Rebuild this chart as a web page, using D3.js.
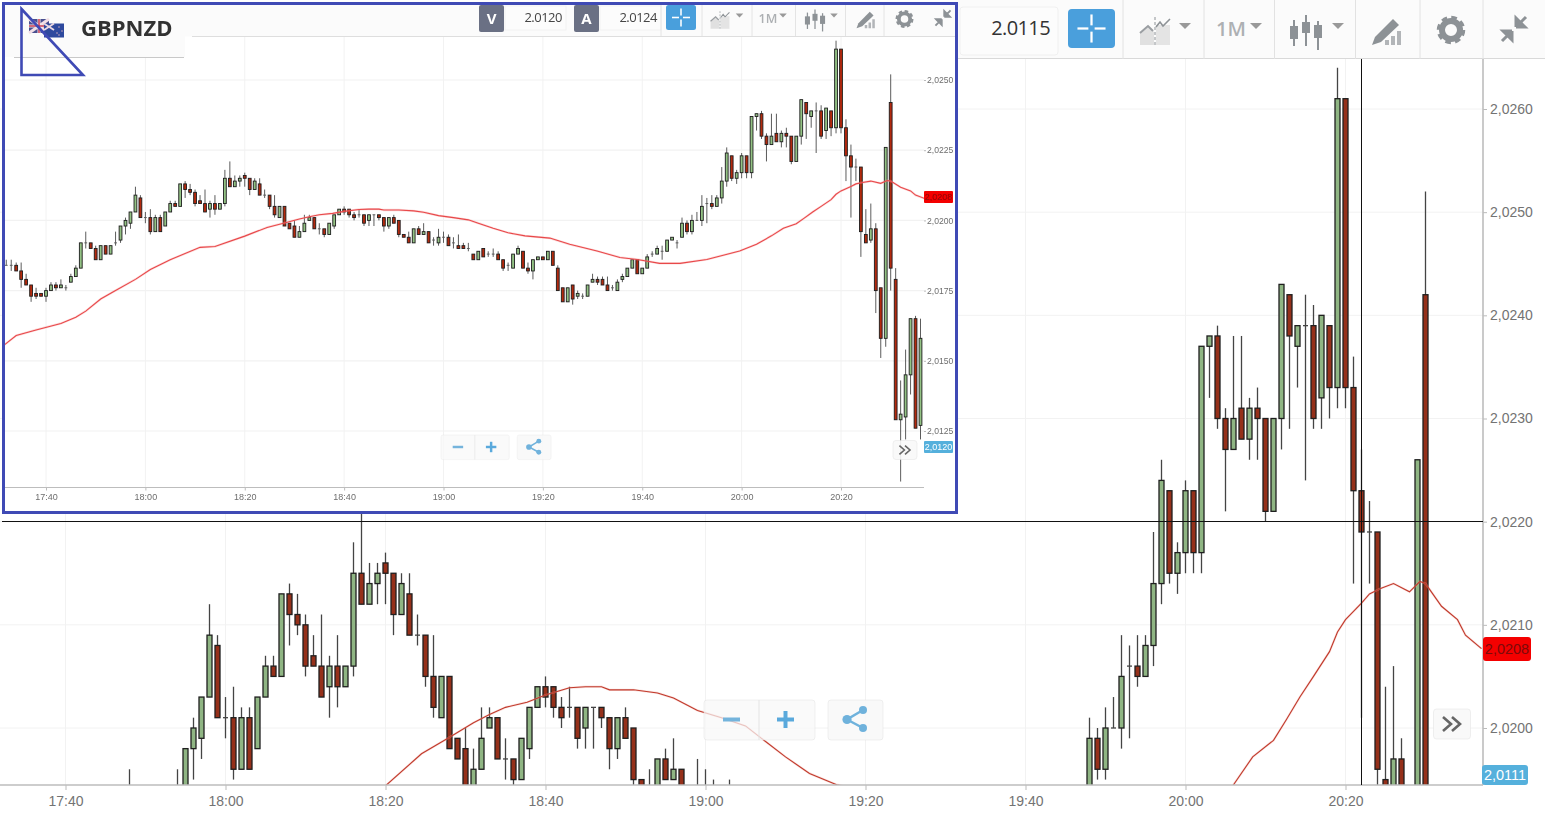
<!DOCTYPE html>
<html><head><meta charset="utf-8">
<style>html,body{margin:0;padding:0;background:#fff;overflow:hidden}svg{display:block}</style>
<script src="https://cdn.jsdelivr.net/npm/d3@7/dist/d3.min.js"></script></head><body>
<script>
// ---------- DATA: one-minute GBPNZD candles, first candle at 17:32 ----------
const firstMinute = -8;   // minutes relative to 17:40
const lastMinuteInMain = 170;
const open = [2.0184,2.0184,2.0184,2.0182,2.0179,2.0177,2.0174,2.0174,
2.0173,2.0175,2.0177,2.0176,2.0176,2.0178,2.0180,2.0183,
2.0192,2.0192,2.0190,2.0186,2.0191,2.0188,2.0192,2.0193,
2.0198,2.0199,2.0203,2.0208,2.0201,2.0201,2.0196,2.0201,
2.0198,2.0203,2.0206,2.0205,2.0213,2.0211,2.0210,2.0207,
2.0206,2.0204,2.0206,2.0204,2.0206,2.0215,2.0212,2.0214,
2.0216,2.0215,2.0211,2.0213,2.0209,2.0209,2.0205,2.0201,
2.0205,2.0199,2.0198,2.0194,2.0196,2.0200,2.0201,2.0197,
2.0197,2.0195,2.0198,2.0202,2.0204,2.0204,2.0202,2.0202,
2.0202,2.0200,2.0202,2.0202,2.0201,2.0198,2.0201,2.0200,
2.0195,2.0194,2.0192,2.0197,2.0195,2.0196,2.0193,2.0192,
2.0194,2.0194,2.0192,2.0191,2.0191,2.0190,2.0188,2.0186,
2.0190,2.0188,2.0188,2.0188,2.0186,2.0184,2.0183,2.0188,
2.0189,2.0183,2.0182,2.0186,2.0187,2.0186,2.0189,2.0183,
2.0176,2.0171,2.0177,2.0173,2.0173,2.0173,2.0178,2.0179,
2.0179,2.0177,2.0176,2.0175,2.0179,2.0180,2.0183,2.0186,
2.0181,2.0183,2.0188,2.0188,2.0189,2.0189,2.0193,2.0192,
2.0194,2.0199,2.0196,2.0200,2.0200,2.0206,2.0206,2.0205,
2.0208,2.0214,2.0223,2.0215,2.0217,2.0223,2.0217,2.0237,
2.0238,2.0230,2.0227,2.0231,2.0228,2.0231,2.0230,2.0221,
2.0230,2.0242,2.0237,2.0239,2.0239,2.0232,2.0239,2.0233,
2.0261,2.0233,2.0223,2.0219,2.0219,2.0195,2.0193,2.0197,
2.0176,2.0158,2.0242,2.0179,2.0129,2.0130,2.0145,2.0165,2.0127];
const close = [2.0184,2.0184,2.0182,2.0179,2.0177,2.0173,2.0173,2.0173,
2.0175,2.0177,2.0176,2.0177,2.0176,2.0180,2.0183,2.0192,
2.0192,2.0190,2.0186,2.0191,2.0188,2.0191,2.0192,2.0198,
2.0200,2.0203,2.0209,2.0201,2.0201,2.0196,2.0201,2.0196,
2.0203,2.0206,2.0205,2.0213,2.0211,2.0210,2.0206,2.0206,
2.0203,2.0206,2.0204,2.0206,2.0215,2.0212,2.0214,2.0215,
2.0215,2.0211,2.0214,2.0209,2.0209,2.0205,2.0202,2.0205,
2.0198,2.0197,2.0194,2.0196,2.0199,2.0201,2.0197,2.0197,
2.0195,2.0199,2.0202,2.0204,2.0203,2.0202,2.0201,2.0202,
2.0199,2.0202,2.0202,2.0201,2.0198,2.0201,2.0199,2.0195,
2.0194,2.0192,2.0197,2.0195,2.0196,2.0192,2.0193,2.0194,
2.0194,2.0191,2.0192,2.0190,2.0190,2.0190,2.0186,2.0189,
2.0187,2.0188,2.0188,2.0186,2.0183,2.0184,2.0188,2.0190,
2.0183,2.0182,2.0186,2.0187,2.0186,2.0189,2.0184,2.0175,
2.0171,2.0176,2.0172,2.0174,2.0173,2.0177,2.0179,2.0178,
2.0177,2.0175,2.0176,2.0178,2.0180,2.0183,2.0186,2.0181,
2.0183,2.0187,2.0188,2.0190,2.0189,2.0193,2.0194,2.0192,
2.0199,2.0196,2.0200,2.0200,2.0205,2.0206,2.0205,2.0208,
2.0214,2.0224,2.0215,2.0217,2.0223,2.0217,2.0237,2.0238,
2.0230,2.0227,2.0230,2.0228,2.0231,2.0230,2.0221,2.0230,
2.0243,2.0238,2.0239,2.0239,2.0230,2.0240,2.0233,2.0261,
2.0233,2.0223,2.0219,2.0219,2.0196,2.0192,2.0197,2.0175,
2.0158,2.0226,2.0183,2.0129,2.0131,2.0145,2.0165,2.0126,2.0158];
const high = [2.0186,2.0186,2.0185,2.0185,2.0181,2.0177,2.0176,2.0174,
2.0176,2.0178,2.0178,2.0179,2.0177,2.0181,2.0184,2.0192,
2.0196,2.0192,2.0191,2.0191,2.0191,2.0191,2.0196,2.0198,
2.0201,2.0203,2.0212,2.0209,2.0203,2.0204,2.0202,2.0202,
2.0203,2.0207,2.0207,2.0213,2.0214,2.0213,2.0211,2.0209,
2.0211,2.0207,2.0209,2.0206,2.0218,2.0221,2.0216,2.0216,
2.0217,2.0215,2.0215,2.0215,2.0211,2.0209,2.0209,2.0205,
2.0205,2.0199,2.0200,2.0198,2.0202,2.0202,2.0201,2.0199,
2.0197,2.0199,2.0202,2.0204,2.0205,2.0204,2.0203,2.0204,
2.0202,2.0202,2.0202,2.0202,2.0201,2.0201,2.0202,2.0200,
2.0195,2.0196,2.0197,2.0198,2.0199,2.0196,2.0194,2.0197,
2.0196,2.0195,2.0194,2.0195,2.0192,2.0192,2.0188,2.0189,
2.0190,2.0189,2.0190,2.0189,2.0186,2.0185,2.0188,2.0191,
2.0189,2.0185,2.0186,2.0187,2.0187,2.0189,2.0189,2.0184,
2.0176,2.0176,2.0177,2.0175,2.0174,2.0177,2.0181,2.0180,
2.0180,2.0180,2.0177,2.0179,2.0181,2.0183,2.0186,2.0186,
2.0183,2.0188,2.0189,2.0191,2.0191,2.0193,2.0194,2.0193,
2.0201,2.0200,2.0202,2.0203,2.0209,2.0208,2.0209,2.0209,
2.0219,2.0226,2.0223,2.0218,2.0224,2.0223,2.0237,2.0238,
2.0239,2.0231,2.0238,2.0238,2.0232,2.0233,2.0230,2.0230,
2.0243,2.0242,2.0239,2.0242,2.0241,2.0240,2.0239,2.0264,
2.0261,2.0236,2.0227,2.0222,2.0219,2.0204,2.0206,2.0199,
2.0176,2.0226,2.0252,2.0183,2.0143,2.0154,2.0165,2.0166,2.0165];
const low = [2.0184,2.0182,2.0182,2.0176,2.0177,2.0171,2.0172,2.0173,
2.0171,2.0175,2.0175,2.0176,2.0175,2.0178,2.0180,2.0183,
2.0190,2.0190,2.0186,2.0186,2.0188,2.0188,2.0191,2.0192,
2.0195,2.0197,2.0203,2.0201,2.0199,2.0195,2.0196,2.0196,
2.0198,2.0203,2.0205,2.0205,2.0208,2.0209,2.0205,2.0206,
2.0203,2.0201,2.0202,2.0204,2.0205,2.0212,2.0212,2.0212,
2.0212,2.0209,2.0211,2.0209,2.0208,2.0204,2.0201,2.0201,
2.0198,2.0197,2.0194,2.0194,2.0196,2.0200,2.0197,2.0195,
2.0194,2.0195,2.0197,2.0202,2.0202,2.0201,2.0200,2.0201,
2.0198,2.0198,2.0198,2.0200,2.0196,2.0197,2.0199,2.0194,
2.0194,2.0192,2.0192,2.0195,2.0195,2.0192,2.0191,2.0191,
2.0192,2.0191,2.0190,2.0190,2.0190,2.0189,2.0186,2.0186,
2.0187,2.0187,2.0187,2.0186,2.0182,2.0182,2.0183,2.0188,
2.0183,2.0181,2.0179,2.0186,2.0186,2.0186,2.0184,2.0175,
2.0171,2.0171,2.0170,2.0172,2.0172,2.0173,2.0178,2.0177,
2.0177,2.0175,2.0175,2.0175,2.0178,2.0180,2.0183,2.0181,
2.0181,2.0183,2.0187,2.0188,2.0186,2.0189,2.0193,2.0190,
2.0194,2.0195,2.0195,2.0200,2.0198,2.0199,2.0204,2.0205,
2.0206,2.0212,2.0214,2.0213,2.0215,2.0215,2.0215,2.0232,
2.0229,2.0221,2.0227,2.0228,2.0226,2.0226,2.0220,2.0221,
2.0227,2.0229,2.0233,2.0224,2.0229,2.0229,2.0230,2.0231,
2.0231,2.0214,2.0201,2.0214,2.0187,2.0192,2.0192,2.0167,
2.0151,2.0155,2.0175,2.0129,2.0107,2.0122,2.0138,2.0126,2.0122];
// moving average (red line): minute, value
const maMinute = [-8.5,-6,-2,3,6,8,11,14,18,21,25,31,34,40,44.5,47.8,51,53,55,57.7,60,63,65,67,68,71,74,76,79,82,85,87,90,93,96.4,101.4,105.4,110.9,115.5,119,123.5,127.6,133,139.6,143,146,148.4,151,152.6,154.3,156,158,159,160,162,163,164.3,166,168,169.3,170,172,174,175,177];
const maValue = [2.01555,2.0159,2.0161,2.01633,2.01655,2.01677,2.0172,2.0175,2.0179,2.01825,2.0186,2.01904,2.01907,2.01944,2.01975,2.0199,2.02005,2.02013,2.0202,2.02025,2.02032,2.02039,2.0204,2.0204,2.02037,2.02037,2.02034,2.02029,2.02017,2.0201,2.02002,2.0199,2.01972,2.01956,2.01945,2.01937,2.01915,2.01891,2.01868,2.01861,2.01847,2.01847,2.01861,2.01891,2.01915,2.01945,2.01972,2.01988,2.02008,2.0203,2.0205,2.02074,2.02093,2.02105,2.02121,2.0213,2.02135,2.0214,2.02132,2.02142,2.0214,2.02118,2.02105,2.0209,2.02077];
// axes
const xTickMinutes = [0,20,40,60,80,100,120,140,160];
const xTickLabels = ["17:40","18:00","18:20","18:40","19:00","19:20","19:40","20:00","20:20"];
const mainYTicks = [2.0200,2.0210,2.0220,2.0230,2.0240,2.0250,2.0260];
const insetYTicks = [2.0125,2.0150,2.0175,2.0200,2.0225,2.0250];
const symbol = "GBPNZD";
const bidInset = "2.0120", askInset = "2.0124", askMain = "2.0115";
const maTagMain = "2,0208", priceTagMain = "2,0111", maTagInset = "2,0208", priceTagInset = "2,0120";
const crosshairPrice = 2.0220, crosshairMinute = 162;

// ---------- SCALES ----------
const candles = open.map((o,i)=>({m:firstMinute+i,o,c:close[i],h:high[i],l:low[i]}));
const ma = maMinute.map((m,i)=>({m,v:maValue[i]}));
const W=1545,H=819, GRID="#f2f2f2", BLUE="#3f4ab5";
const svg=d3.select("body").append("svg").attr("width",W).attr("height",H).attr("font-family","'Liberation Sans',Arial,sans-serif");
const defs=svg.append("defs");
const f=defs.append("filter").attr("id","soft").attr("x",0).attr("y",0).attr("width","100%").attr("height","100%");
f.append("feGaussianBlur").attr("stdDeviation",0.35);
function clip(id,x,y,w,h){defs.append("clipPath").attr("id",id).append("rect").attr("x",x).attr("y",y).attr("width",w).attr("height",h);}
clip("mainClip",0,59,1483,726); clip("insetClip",5,37,919,450);

function fmt(v){return d3.format(".4f")(v).replace(".",",");}

function drawChart(g,o){
  const x=d3.scaleLinear().domain([0,160]).range(o.xr), y=d3.scaleLinear().domain(o.yd).range(o.yr);
  // grid
  g.append("g").selectAll("line").data(xTickMinutes).join("line").attr("x1",d=>x(d)).attr("x2",d=>x(d)).attr("y1",o.top).attr("y2",o.bottom).attr("stroke",GRID);
  g.append("g").selectAll("line").data(o.yt).join("line").attr("x1",o.left).attr("x2",o.right).attr("y1",d=>y(d)).attr("y2",d=>y(d)).attr("stroke",GRID).attr("stroke-width",o.gw);
  // candles
  const plot=g.append("g").attr("clip-path",`url(#${o.clip})`);
  const cs=plot.append("g").selectAll("g").data(candles.filter(d=>d.m<=o.last && x(d.m)>o.left-2)).join("g");
  cs.append("line").attr("x1",d=>x(d.m)).attr("x2",d=>x(d.m)).attr("y1",d=>y(d.h)).attr("y2",d=>y(d.l)).attr("stroke",o.wick).attr("stroke-width",o.ww);
  cs.filter(d=>d.o!==d.c).append("rect").attr("x",d=>x(d.m)-o.bw/2).attr("width",o.bw)
    .attr("y",d=>y(Math.max(d.o,d.c))).attr("height",d=>Math.abs(y(d.o)-y(d.c)))
    .attr("fill",d=>d.c>d.o?o.green:o.red).attr("stroke",o.border).attr("stroke-width",o.bs);
  cs.filter(d=>d.o===d.c).append("line").attr("x1",d=>x(d.m)-o.bw/2).attr("x2",d=>x(d.m)+o.bw/2).attr("y1",d=>y(d.o)).attr("y2",d=>y(d.o)).attr("stroke",o.wick).attr("stroke-width",o.ww);
  // moving average
  const line=d3.line().x(d=>x(d.m)).y(d=>y(d.v)).curve(d3.curveLinear);
  plot.append("path").datum(ma).attr("fill","none").attr("stroke",o.maHalo).attr("stroke-width",o.maW+1.2).attr("d",line);
  plot.append("path").datum(ma).attr("fill","none").attr("stroke",o.maColor).attr("stroke-width",o.maW).attr("d",line);
  // axes via d3
  const xa=g.append("g").attr("transform",`translate(0,${o.bottom})`).call(d3.axisBottom(x).tickValues(xTickMinutes).tickFormat((d,i)=>xTickLabels[i]).tickSize(o.ts).tickPadding(o.xtp));
  xa.select(".domain").remove();
  xa.append("line").attr("x1",o.left).attr("x2",o.right).attr("stroke","#bdbdbd").attr("stroke-width",o.aw);
  xa.selectAll("text").attr("fill",o.tc).attr("font-size",o.fs).attr("font-family","'Liberation Sans',Arial,sans-serif");
  xa.selectAll(".tick line").attr("stroke","#bbb");
  const ya=g.append("g").attr("transform",`translate(${o.right},0)`).call(d3.axisRight(y).tickValues(o.yt).tickFormat(fmt).tickSize(o.yts).tickPadding(o.ytp));
  ya.select(".domain").remove();
  if(o.axisLine) ya.append("line").attr("y1",o.top).attr("y2",o.bottom).attr("stroke","#bdbdbd").attr("stroke-width",o.aw);
  ya.selectAll("text").attr("fill",o.tc).attr("font-size",o.yfs).attr("font-family","'Liberation Sans',Arial,sans-serif");
  ya.selectAll(".tick line").attr("stroke","#bbb");
  return {x,y};
}
function tag(g,x,y,w,h,fill,txt,col,fs){
  g.append("rect").attr("x",x).attr("y",y).attr("width",w).attr("height",h).attr("rx",fs>10?3:1).attr("fill",fill);
  g.append("text").attr("x",x+w/2).attr("y",y+h/2).attr("dy",".36em").attr("text-anchor","middle").attr("fill",col).attr("font-size",fs).text(txt);
}
function floatBtn(g,x,y,w,h,alpha){
  g.append("rect").attr("x",x).attr("y",y).attr("width",w).attr("height",h).attr("rx",3).attr("fill",`rgba(248,248,248,${alpha})`).attr("stroke","rgba(225,225,225,.7)").attr("stroke-width",.7);
}
function buttons(g,s,ox,oy){
  const b=g.append("g").attr("transform",`translate(${ox},${oy}) scale(${s})`);
  floatBtn(b,0,0,111,40,.72); b.append("line").attr("x1",55).attr("x2",55).attr("y1",0).attr("y2",40).attr("stroke","#e4e4e4");
  floatBtn(b,124,0,55,40,.9);
  b.append("rect").attr("x",19).attr("y",17.5).attr("width",17).attr("height",4).attr("fill","#74b4dc");
  b.append("rect").attr("x",73).attr("y",17.5).attr("width",17).attr("height",4).attr("fill","#5aa9dc");
  b.append("rect").attr("x",79.5).attr("y",11).attr("width",4).attr("height",17).attr("fill","#5aa9dc");
  b.append("path").attr("d","M159,10 L143,19.5 L159,28").attr("fill","none").attr("stroke","#6fb2dc").attr("stroke-width",2.5);
  [[159,10,4],[143,19.5,4.6],[159,28,4]].forEach(c=>b.append("circle").attr("cx",c[0]).attr("cy",c[1]).attr("r",c[2]).attr("fill","#6fb2dc"));
}
function chevron(g,s,cx,cy,w,h){
  floatBtn(g,cx-w/2,cy-h/2,w,h,.9);
  g.append("path").attr("transform",`translate(${cx},${cy}) scale(${s})`).attr("d","M-9,-7 L-1,0 L-9,7 M0,-7 L8,0 L0,7").attr("fill","none").attr("stroke","#666").attr("stroke-width",2.6);
}
function tools(g,s,p){
  const gray="#8d9296";
  const put=(k)=>g.append("g").attr("transform",`translate(${p[k][0]},${p[k][1]}) scale(${s})`);
  const caret=(k)=>put(k).append("path").attr("d","M-6,-3 L6,-3 L0,3Z").attr("fill","#999");
  let a=put("area");
  a.append("path").attr("d","M-15,14 L-15,2 L-7,-5 L-1,1 L-1,14Z").attr("fill","#e0e0e0");
  a.append("path").attr("d","M1,14 L1,-6 L15,-6 L15,14Z").attr("fill","#e4e4e4");
  a.append("path").attr("d","M-15,2 L-7,-5 L-2,0").attr("fill","none").attr("stroke","#9a9ea2").attr("stroke-width",2);
  a.append("path").attr("d","M1,-4 L5,-9 L8,-5 L15,-12").attr("fill","none").attr("stroke","#8d9296").attr("stroke-width",1.6);
  a.append("line").attr("y1",-14).attr("y2",15).attr("stroke",gray).attr("stroke-width",1).attr("stroke-dasharray","3 2");
  caret("areaC");
  put("m").append("text").attr("text-anchor","middle").attr("dy",".36em").attr("fill","#adb0b3").attr("font-size",20).attr("font-family","'Open Sans',sans-serif").attr("font-weight",600).text("1M");
  caret("mC");
  let c=put("candle");
  [[-12,-5,9,-11,15],[0,-9,9,-16,15],[12,-6,9,-10,19]].forEach(q=>{
    c.append("line").attr("x1",q[0]).attr("x2",q[0]).attr("y1",q[3]).attr("y2",q[4]).attr("stroke",gray).attr("stroke-width",2);
    c.append("rect").attr("x",q[0]-4).attr("y",q[1]).attr("width",8).attr("height",q[2]+ (q[0]?4:2)).attr("fill",gray);
  });
  caret("candleC");
  let pn=put("pencil");
  pn.append("path").attr("d","M-15,13 L-12,5 L6,-13 L12,-7 L-6,10Z").attr("fill",gray);
  pn.append("path").attr("d","M-2,13 h4 v-5 h-4Z M4,13 h4 v-9 h-4Z M10,13 h4 v-14 h-4Z").attr("fill","#b2b5b8");
  let ge=put("gear");
  ge.append("circle").attr("r",9).attr("fill","none").attr("stroke",gray).attr("stroke-width",6);
  ge.append("circle").attr("r",12.5).attr("fill","none").attr("stroke",gray).attr("stroke-width",3.5).attr("stroke-dasharray","5.6 4.2");
  let co=put("compress");
  co.append("path").attr("d","M2,-2 L12,-12 M2,-2 L2,-11 L6,-7 M2,-2 L11,-2 L7,-6").attr("fill",gray).attr("stroke",gray).attr("stroke-width",3);
  co.append("path").attr("d","M-2,2 L-12,12 M-2,2 L-2,11 L-6,7 M-2,2 L-11,2 L-7,6").attr("fill",gray).attr("stroke",gray).attr("stroke-width",3);
}
function crossBtn(g,x,y,w,h){
  g.append("rect").attr("x",x).attr("y",y).attr("width",w).attr("height",h).attr("rx",h*.1).attr("fill","#4a9fdc");
  const cx=x+w/2,cy=y+h/2,k=h*.36,n=h*.08;
  [[cx-k,cy,cx-n,cy],[cx+n,cy,cx+k,cy],[cx,cy-k,cx,cy-n],[cx,cy+n,cx,cy+k]].forEach(l=>g.append("line").attr("x1",l[0]).attr("y1",l[1]).attr("x2",l[2]).attr("y2",l[3]).attr("stroke","#fff").attr("stroke-width",h*.05+.3));
}

// ---------- MAIN CHART ----------
svg.append("rect").attr("width",W).attr("height",H).attr("fill","#fff");
const mg=svg.append("g");
const M=drawChart(mg,{xr:[65.5,1345.5],yd:[2.0200,2.0260],yr:[728,109],yt:mainYTicks,left:0,right:1483,top:59,bottom:785,clip:"mainClip",last:lastMinuteInMain,
  gw:1,wick:"#444",ww:1.3,bw:5,bs:1.3,green:"#8fb583",red:"#95301a",border:"#1f1f1f",maColor:"#c0392b",maHalo:"rgba(240,170,160,.35)",maW:1.1,ts:5,xtp:6,yts:4,ytp:3,fs:14,yfs:14,tc:"#737373",aw:1.6,axisLine:true});
const chY=Math.floor(M.y(crosshairPrice))+.5, chX=Math.floor(M.x(crosshairMinute))+.5;
mg.append("line").attr("x1",2).attr("x2",1483).attr("y1",chY).attr("y2",chY).attr("stroke","#111").attr("stroke-width",1);
mg.append("line").attr("x1",chX).attr("x2",chX).attr("y1",59).attr("y2",785).attr("stroke","#111").attr("stroke-width",1);
tag(mg,1483,637,48,24,"#f40000",maTagMain,"#7c0a0a",14.5);
tag(mg,1482,765,46,20,"#55b0dc",priceTagMain,"#fff",14.5);
buttons(mg,1,704,700);
chevron(mg,1,1452,724,37,30);
// toolbar
mg.append("rect").attr("x",958).attr("y",0).attr("width",587).attr("height",58.5).attr("fill","#fbfbfb");
mg.append("line").attr("x1",958).attr("x2",1545).attr("y1",58.5).attr("y2",58.5).attr("stroke","#d9d9d9");
mg.append("rect").attr("x",960).attr("y",7).attr("width",98).attr("height",48).attr("rx",3).attr("fill","#fcfcfc").attr("stroke","#f0f0f0");
mg.append("text").attr("x",1050).attr("y",35).attr("text-anchor","end").attr("font-family","'Open Sans',sans-serif").attr("font-size",20).attr("letter-spacing",-.6).attr("fill","#333").text(askMain);
crossBtn(mg,1068,9,47,39);
[1123,1204,1274.5,1355.5,1420,1483].forEach(x=>mg.append("line").attr("x1",x).attr("x2",x).attr("y1",0).attr("y2",59).attr("stroke","#e2e2e2"));
tools(mg,1,{area:[1155,31],areaC:[1185,26],m:[1231,29],mC:[1256,26],candle:[1306,31],candleC:[1338,26],pencil:[1387,32],gear:[1451,30],compress:[1514,29]});

// ---------- INSET SCREENSHOT ----------
const ig=svg.append("g");
ig.append("rect").attr("x",3.5).attr("y",3.5).attr("width",953).attr("height",509).attr("fill","#fff");
const body=ig.append("g").attr("filter","url(#soft)");
const I=drawChart(body,{xr:[46,841],yd:[2.0125,2.0250],yr:[431,80],yt:insetYTicks,left:5,right:924,top:37,bottom:487.5,clip:"insetClip",last:999,
  gw:1.2,wick:"#5c5c5c",ww:1,bw:2.8,bs:.9,green:"#93c284",red:"#b3290f",border:"#1d1d1d",maColor:"#e8484a",maHalo:"rgba(245,150,150,.35)",maW:1.1,ts:3,xtp:3,yts:2,ytp:1,fs:9,yfs:8.6,tc:"#6e6e6e",aw:1.2,axisLine:false});
tag(body,924,191,29,12,"#f40000",maTagInset,"#8a0a0a",9);
tag(body,924,441,29,12,"#55b0dc",priceTagInset,"#fff",9);
buttons(body,.615,441,435);
chevron(body,.62,905,450,24,19);
// inset toolbar
body.append("rect").attr("x",5).attr("y",5).attr("width",950).attr("height",31.5).attr("fill","#fbfbfb");
body.append("line").attr("x1",192).attr("x2",955).attr("y1",36.5).attr("y2",36.5).attr("stroke","#dedede");
body.append("rect").attr("x",5).attr("y",5).attr("width",180).attr("height",52).attr("fill","#fbfbfb");
body.append("line").attr("x1",14).attr("x2",184).attr("y1",57.5).attr("y2",57.5).attr("stroke","#c9c9c9");
// flags
body.append("rect").attr("x",29).attr("y",19).attr("width",20).attr("height",14).attr("fill","#4a4f8f");
[["M29,19 L49,33","#f2dfe6",3],["M49,19 L29,33","#f2dfe6",3],["M39,19 V33","#f0e8ea",3],["M29,26 H49","#f0e8ea",3],["M39,19 V33","#c8334a",1.4],["M29,26 H49","#c8334a",1.4]].forEach(l=>body.append("path").attr("d",l[0]).attr("stroke",l[1]).attr("stroke-width",l[2]).attr("fill","none"));
body.append("rect").attr("x",44).attr("y",23.5).attr("width",20).attr("height",14).attr("fill","#2f4a9e");
[["M44,23.5 L54,30","#ecd9e2",1.8],["M54,23.5 L44,30","#ecd9e2",1.8]].forEach(l=>body.append("path").attr("d",l[0]).attr("stroke",l[1]).attr("stroke-width",l[2]));
[[59,27],[62,31],[57,33],[59,35]].forEach(p=>body.append("circle").attr("cx",p[0]).attr("cy",p[1]).attr("r",.7).attr("fill","#e9b9c0"));
body.append("text").attr("x",81).attr("y",35.5).attr("font-family","'Open Sans',sans-serif").attr("font-weight",700).attr("font-size",22).attr("fill","#333").text(symbol);
// bid / ask boxes
function box(x,label,val){
  body.append("rect").attr("x",x).attr("y",5).attr("width",25).attr("height",27).attr("rx",2).attr("fill","#6b7084");
  body.append("text").attr("x",x+12.5).attr("y",24).attr("text-anchor","middle").attr("font-family","'Open Sans',sans-serif").attr("font-weight",700).attr("font-size",15).attr("fill","#fff").text(label);
  body.append("rect").attr("x",x+26).attr("y",6).attr("width",61).attr("height",24).attr("fill","#fcfcfc").attr("stroke","#f2f2f2");
  body.append("text").attr("x",x+83).attr("y",22).attr("text-anchor","end").attr("font-family","'Open Sans',sans-serif").attr("font-size",13).attr("letter-spacing",-.5).attr("fill","#444").text(val);
}
box(479,"V",bidInset); box(574,"A",askInset);
crossBtn(body,666,5,30,25);
[661,702,752,795.5,845.5,884].forEach(x=>body.append("line").attr("x1",x).attr("x2",x).attr("y1",5).attr("y2",36).attr("stroke","#e4e4e4"));
tools(body,.63,{area:[720,20],areaC:[739.5,15.5],m:[768,18],mC:[783,15.5],candle:[815,19.5],candleC:[834,15.5],pencil:[866,20],gear:[904.5,19],compress:[943,18]});
// annotation frame and triangle
ig.append("rect").attr("x",3.5).attr("y",3.5).attr("width",953).attr("height",509).attr("fill","none").attr("stroke",BLUE).attr("stroke-width",3);
ig.append("path").attr("d","M21.5,9 L83,75 L21.5,75Z").attr("fill","none").attr("stroke",BLUE).attr("stroke-width",2.6);
</script></body></html>
